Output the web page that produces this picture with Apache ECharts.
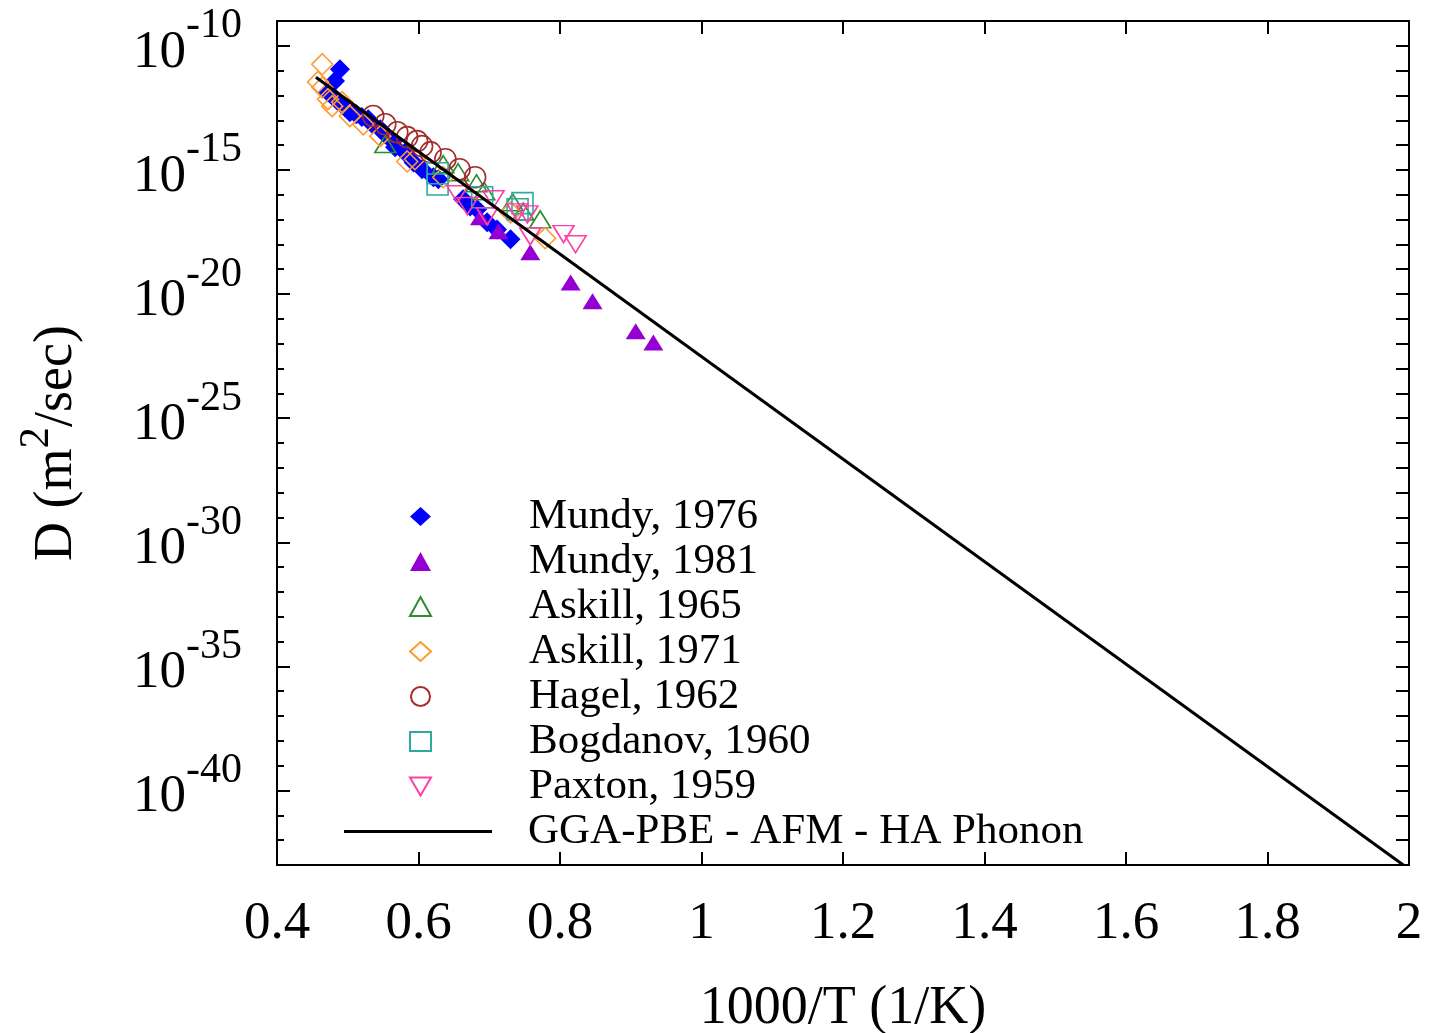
<!DOCTYPE html>
<html>
<head>
<meta charset="utf-8">
<script src="https://cdn.jsdelivr.net/npm/echarts@6/dist/echarts.min.js"></script>
<style>
html,body{margin:0;padding:0;background:#fff;}
#chart{width:1432px;height:1033px;}
</style>
</head>
<body>
<div id="chart"></div>
<script>
// ---- data (x = 1000/T in 1/K, D in m^2/sec) ----
var mundy1976X = [0.489,0.482,0.472,0.479,0.486,0.496,0.503,0.512,0.520,0.529,0.535,0.546,0.553,0.563,0.567,0.581,0.593,0.605,0.621,0.628,0.663,0.673,0.683,0.697,0.711,0.730];
var mundy1976D = [1.15e-11,3.8e-12,1.35e-12,9.3e-13,5.9e-13,3.4e-13,2.1e-13,1.74e-13,1.35e-13,1.1e-13,6.9e-14,4.4e-14,2.75e-14,1.45e-14,8.3e-15,5.1e-15,2.0e-15,1.07e-15,5.1e-16,4.2e-16,6.6e-17,3.4e-17,2.6e-17,7.8e-18,4.0e-18,1.6e-18];

var mundy1981X = [0.687,0.713,0.758,0.815,0.846,0.907,0.932];
var mundy1981D = [1.23e-17,3.4e-18,4.8e-19,2.95e-20,5.1e-21,3.16e-22,1.12e-22];

var askill1965X = [0.553,0.635,0.656,0.682,0.693,0.733,0.748,0.772];
var askill1965D = [1.1e-14,1.7e-15,8.1e-16,2.9e-16,1.38e-16,5.0e-17,2.1e-17,1.02e-17];

var askill1971X = [0.464,0.458,0.464,0.472,0.478,0.492,0.503,0.522,0.546,0.584,0.595,0.635,0.730,0.779];
var askill1971D = [1.82e-11,3.5e-12,2.1e-12,7.1e-13,3.7e-13,5.4e-13,1.48e-13,6.9e-14,2.3e-14,2.2e-15,2.7e-15,5.1e-16,1.95e-17,1.78e-18];

var hagel1962X = [0.536,0.553,0.570,0.584,0.598,0.605,0.617,0.638,0.658,0.680];
var hagel1962D = [1.48e-13,6.9e-14,3.3e-14,2.1e-14,1.45e-14,9.1e-15,5.1e-15,2.7e-15,1.07e-15,5.1e-16];

var bogdanov1960X = [0.627,0.627,0.690,0.740,0.747];
var bogdanov1960D = [7.4e-16,2.6e-16,7.9e-17,2.6e-17,4.6e-17];

var paxton1959X = [0.655,0.669,0.697,0.706,0.740,0.754,0.758,0.805,0.822];
var paxton1959D = [1.05e-16,3.5e-17,1.35e-17,6.6e-17,1.95e-17,1.62e-17,2.1e-18,2.6e-18,1.02e-18];

var ggaX = [0.455, 1.992];
var ggaD = [5.4e-12, 1e-43];

var seriesNames = ['Mundy, 1976','Mundy, 1981','Askill, 1965','Askill, 1971','Hagel, 1962','Bogdanov, 1960','Paxton, 1959','GGA-PBE - AFM - HA Phonon'];
var xTickLabels = ['0.4','0.6','0.8','1','1.2','1.4','1.6','1.8','2'];
var yLabelExponents = [-40,-35,-30,-25,-20,-15,-10];
var yRange = [1e-43, 1e-9];

// ---- helpers ----
// y positions use the decade exponent of D (log10 scale drawn on a value axis)
function lg(v){ return Math.log(v) / Math.LN10; }
function pairs(xs, ys){ return xs.map(function(x,i){ return [x, lg(ys[i]), ys[i]]; }); }
var FONT = "'Liberation Serif','Times New Roman',serif";
var yMin = Math.round(lg(yRange[0])), yMax = Math.round(lg(yRange[1]));
var DOWN_TRI = 'path://M0,0 L20,0 L10,17 Z';

function scatter(name, xs, ys, symbol, size, color, filled){
  return {
    name: name, type: 'scatter', data: pairs(xs, ys),
    symbol: symbol, symbolSize: size, symbolKeepAspect: false,
    itemStyle: filled ? {color: color, borderWidth: 0, opacity: 1}
                      : {color: 'rgba(255,255,255,0)', borderColor: color, borderWidth: 1.6, opacity: 1},
    emphasis: {disabled: true}, silent: true
  };
}
function yLabel(v){
  var e = Math.round(v);
  if (yLabelExponents.indexOf(e) < 0) return '';
  return '{b|10}{s|' + e + '}';
}

var axisLineStyle = {color: '#000', width: 2};
var chart = echarts.init(document.getElementById('chart'), null, {renderer: 'canvas'});
var option = {
  animation: false,
  backgroundColor: '#ffffff',
  grid: {left: 277, right: 23, top: 21, bottom: 168, containLabel: false, outerBoundsMode: 'none'},
  legend: [{
    orient: 'vertical', left: 409, top: 494, padding: 0,
    itemWidth: 21, itemHeight: 19, itemGap: 0,
    selectedMode: false,
    data: seriesNames.slice(0, 7),
    textStyle: {fontFamily: FONT, fontSize: 43, color: '#000', lineHeight: 45, padding: [0,0,0,93]}
  },{
    orient: 'vertical', left: 344, top: 809, padding: 0,
    itemWidth: 148, itemHeight: 3, itemGap: 0,
    selectedMode: false,
    data: [{name: seriesNames[7], icon: 'rect', itemStyle: {color: '#000'}}],
    textStyle: {fontFamily: FONT, fontSize: 43, color: '#000', lineHeight: 45, padding: [0,0,0,31]}
  }],
  xAxis: [{
    type: 'value', min: 0.4, max: 2, interval: 0.2, position: 'bottom',
    axisLine: {show: true, onZero: false, lineStyle: axisLineStyle},
    axisTick: {show: true, inside: true, length: 13, lineStyle: axisLineStyle},
    splitLine: {show: false},
    axisLabel: {margin: 33, fontFamily: FONT, fontSize: 53, color: '#000', lineHeight: 53,
      formatter: function(v){ return xTickLabels[Math.round((v - 0.4) / 0.2)]; }},
    name: '1000/T (1/K)', nameLocation: 'middle', nameGap: 114,
    nameTextStyle: {fontFamily: FONT, fontSize: 54, color: '#000', lineHeight: 60}
  },{
    type: 'value', min: 0.4, max: 2, interval: 0.2, position: 'top',
    axisLine: {show: true, onZero: false, lineStyle: axisLineStyle},
    axisTick: {show: true, inside: true, length: 13, lineStyle: axisLineStyle},
    axisLabel: {show: false}, splitLine: {show: false}
  }],
  yAxis: [{
    type: 'value', min: yMin, max: yMax, interval: 1, position: 'left',
    axisLine: {show: true, onZero: false, lineStyle: axisLineStyle},
    axisTick: {show: true, inside: true, length: 7, lineStyle: axisLineStyle},
    splitLine: {show: false},
    axisLabel: {
      show: true, margin: 35, fontFamily: FONT, color: '#000',
      formatter: yLabel,
      rich: {
        b: {fontFamily: FONT, fontSize: 53, color: '#000', lineHeight: 53, padding: [14,0,0,0]},
        s: {fontFamily: FONT, fontSize: 42, color: '#000', lineHeight: 42, padding: [0,0,39,0]}
      }
    },
    name: '{n|D (m}{s|2}{n|/sec)}', nameLocation: 'middle', nameGap: 190, nameRotate: 90,
    nameTextStyle: {
      rich: {
        n: {fontFamily: FONT, fontSize: 54, color: '#000', lineHeight: 60},
        s: {fontFamily: FONT, fontSize: 43, color: '#000', lineHeight: 43, padding: [0,0,40,0]}
      }
    }
  },{
    type: 'value', min: yMin, max: yMax, interval: 1, position: 'left',
    axisLine: {show: false},
    axisTick: {show: true, inside: true, length: 13, customValues: yLabelExponents, lineStyle: axisLineStyle},
    axisLabel: {show: false}, splitLine: {show: false}
  },{
    type: 'value', min: yMin, max: yMax, interval: 1, position: 'right',
    axisLine: {show: true, onZero: false, lineStyle: axisLineStyle},
    axisTick: {show: true, inside: true, length: 13, lineStyle: axisLineStyle},
    axisLabel: {show: false}, splitLine: {show: false}
  }],
  series: [
    scatter(seriesNames[0], mundy1976X, mundy1976D, 'diamond', [20,20], '#0000ff', true),
    scatter(seriesNames[1], mundy1981X, mundy1981D, 'triangle', [20,16], '#9400d3', true),
    scatter(seriesNames[2], askill1965X, askill1965D, 'triangle', [21,17], '#2e8b2e', false),
    scatter(seriesNames[3], askill1971X, askill1971D, 'diamond', [21,21], '#ff9a2e', false),
    scatter(seriesNames[4], hagel1962X, hagel1962D, 'circle', [21,21], '#a52a2a', false),
    scatter(seriesNames[5], bogdanov1960X, bogdanov1960D, 'rect', [21,21], '#30a9a3', false),
    scatter(seriesNames[6], paxton1959X, paxton1959D, DOWN_TRI, [21,17], '#ff3fa5', false),
    {
      name: seriesNames[7], type: 'line', data: pairs(ggaX, ggaD),
      symbol: 'none', showSymbol: false, clip: true,
      lineStyle: {color: '#000', width: 3}, itemStyle: {color: '#000'},
      emphasis: {disabled: true}, silent: true
    }
  ]
};
chart.setOption(option);
</script>
</body>
</html>
